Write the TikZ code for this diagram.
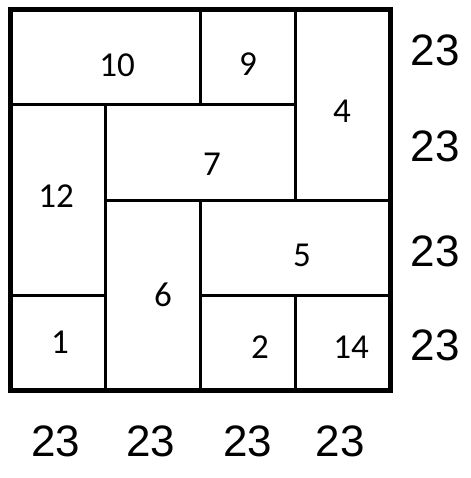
\documentclass[tikz,border=0pt]{standalone}
\usepackage{fontspec}
\setmainfont{Carlito}
\newfontfamily\sumfont{Liberation Sans}
\newcommand*{\block}[4]{%
  \draw [ block ] (#1) rectangle (#2);
  \node [ num ] (b#4) at (#3) {#4};
}

\begin{document}
\begin{tikzpicture}[x=1pt,y=-1pt,
  block/.style = {draw, line width=3pt},
  frame/.style = {draw, line width=5pt},
  num/.style   = {font=\fontsize{35}{35}\selectfont, inner sep=0pt},
  sum/.style   = {font=\sumfont\fontsize{44}{44}\selectfont, inner sep=0pt}]
  \useasboundingbox (0,0) rectangle (470,478);
  % blocks of the square
  \block{10,10}{200,105}{117,65}{10}
  \block{200,10}{295,105}{248,64}{9}
  \block{295,10}{390,200}{342,111}{4}
  \block{10,105}{105,295}{56,196}{12}
  \block{105,105}{295,200}{212,164}{7}
  \block{105,200}{200,390}{163,295}{6}
  \block{200,200}{390,295}{302,255}{5}
  \block{10,295}{105,390}{60,342}{1}
  \block{200,295}{295,390}{260,347}{2}
  \block{295,295}{390,390}{351,347}{14}
  \draw [ frame ] (10,10) rectangle (390,390);
  % sums
  \foreach \y [count=\i] in {50,146,251,345}
    \node [ sum ] (row\i) at (435,\y) {23};
  \foreach \x [count=\i] in {56,151,248,340}
    \node [ sum ] (col\i) at (\x,441) {23};
\end{tikzpicture}
\end{document}
